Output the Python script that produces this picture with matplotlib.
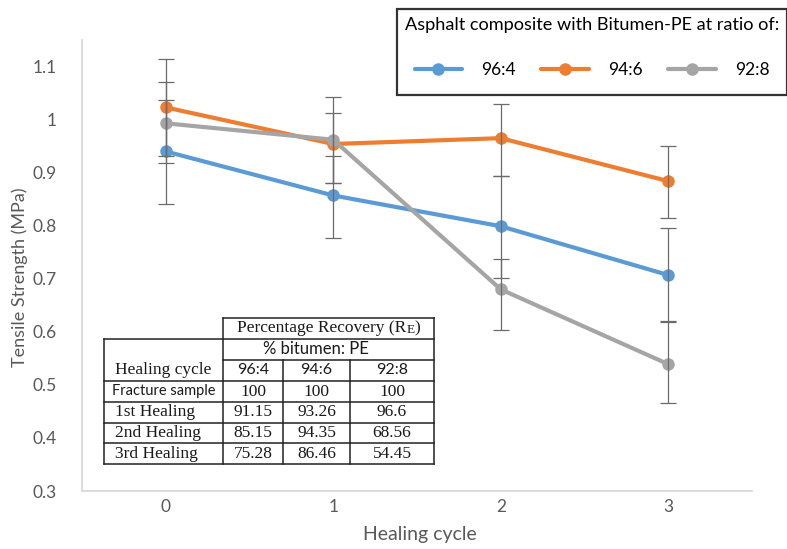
import matplotlib
matplotlib.use("Agg")
import matplotlib.pyplot as plt
import numpy as np

# ---------------- data ----------------
cycles = [0, 1, 2, 3]
series_names = ["96:4", "94:6", "92:8"]
ts_964 = [0.940, 0.857, 0.799, 0.707]
ts_946 = [1.023, 0.954, 0.965, 0.884]
ts_928 = [0.993, 0.962, 0.680, 0.539]
# error bar ends (lower, upper)
lo_964 = [0.840, 0.776, 0.702, 0.620]
hi_964 = [1.036, 0.931, 0.894, 0.796]
lo_946 = [0.931, 0.881, 0.893, 0.815]
hi_946 = [1.115, 1.013, 1.030, 0.950]
lo_928 = [0.918, 0.881, 0.604, 0.465]
hi_928 = [1.070, 1.043, 0.738, 0.619]
yticks = [0.3, 0.4, 0.5, 0.6, 0.7, 0.8, 0.9, 1.0, 1.1]
ytick_labels = ["0.3", "0.4", "0.5", "0.6", "0.7", "0.8", "0.9", "1", "1.1"]

table_title = "Percentage Recovery (R"
table_sub = "% bitumen: PE"
table_rowhead = "Healing cycle"
table_cols = ["96:4", "94:6", "92:8"]
table_rows = ["Fracture sample", "1st Healing", "2nd Healing", "3rd Healing"]
table_vals = [["100", "100", "100"],
              ["91.15", "93.26", "96.6"],
              ["85.15", "94.35", "68.56"],
              ["75.28", "86.46", "54.45"]]

colors = ["#5B9BD5", "#ED7D31", "#A5A5A5"]
txtc = "#595959"
SANS = ["Lato", "DejaVu Sans"]
SERIF = ["Liberation Serif", "DejaVu Serif"]

W, H = 787, 549
fig = plt.figure(figsize=(W / 100, H / 100), dpi=100)
ax = fig.add_axes([82 / W, 1 - 491 / H, (752 - 82) / W, (491 - 40) / H])

vals = [ts_964, ts_946, ts_928]
los = [lo_964, lo_946, lo_928]
his = [hi_964, hi_946, hi_928]
for name, v, lo, hi, c in zip(series_names, vals, los, his, colors):
    v = np.array(v)
    ax.plot(cycles, v, color=c, lw=3, marker="o", ms=8, label=name, zorder=3,
            solid_capstyle="round")
    ax.errorbar(cycles, v, yerr=[v - np.array(lo), np.array(hi) - v], fmt="none",
                ecolor="#6b6b6b", elinewidth=0.9, capsize=6, capthick=0.9, zorder=4)

ax.set_xlim(-0.5, 3.5)
ax.set_ylim(0.3, 1.15)
ax.set_xticks(cycles)
ax.set_xticklabels([str(c) for c in cycles])
ax.set_yticks(yticks)
ax.set_yticklabels(ytick_labels)
ax.tick_params(length=0, colors=txtc, labelsize=12.5)
ax.tick_params(axis="y", pad=18)
ax.tick_params(axis="x", pad=6)
for lab in ax.get_xticklabels() + ax.get_yticklabels():
    lab.set_family(SANS)
for s in ["top", "right"]:
    ax.spines[s].set_visible(False)
for s in ["left", "bottom"]:
    ax.spines[s].set_color("#D9D9D9")
    ax.spines[s].set_linewidth(1.3)
ax.set_xlabel("Healing cycle", fontsize=14, color=txtc, family=SANS)
ax.xaxis.set_label_coords(0.504, -0.078)
ax.set_ylabel("Tensile Strength (MPa)", fontsize=13, color=txtc, family=SANS)
ax.yaxis.set_label_coords(-0.08, 0.474)

leg = fig.legend(loc="upper left", bbox_to_anchor=(397 / W, 1 - 9 / H), ncol=3,
                 title="Asphalt composite with Bitumen-PE at ratio of:",
                 prop={"family": SANS, "size": 12.5},
                 title_fontproperties={"family": SANS, "size": 13.1},
                 frameon=True, fancybox=False, edgecolor="black", handlelength=2.75,
                 columnspacing=1.45, borderpad=0.45, handletextpad=1.1, labelspacing=1.1,
                 borderaxespad=0)
leg.get_frame().set_linewidth(1.6)
leg._legend_box.align = "left"
leg._legend_handle_box.pad = 7

# ---------------- table overlay ----------------
ov = fig.add_axes([0, 0, 1, 1], zorder=5)
ov.set_xlim(0, W)
ov.set_ylim(H, 0)
ov.axis("off")
xe = [104, 223, 283, 350, 434]
ye = [318, 339, 360, 381, 402, 423, 443, 464]
ov.fill([xe[0], xe[-1], xe[-1], xe[0]], [ye[1], ye[1], ye[-1], ye[-1]], color="white", zorder=1)
ov.fill([xe[1], xe[-1], xe[-1], xe[1]], [ye[0], ye[0], ye[1], ye[1]], color="white", zorder=1)
lk = dict(color="#222222", lw=1.1, zorder=2)
ov.plot([xe[1], xe[-1]], [ye[0], ye[0]], **lk)
ov.plot([xe[0], xe[-1]], [ye[1], ye[1]], **lk)
ov.plot([xe[1], xe[-1]], [ye[2], ye[2]], **lk)
for y in ye[3:]:
    ov.plot([xe[0], xe[-1]], [y, y], **lk)
ov.plot([xe[0], xe[0]], [ye[1], ye[-1]], **lk)
ov.plot([xe[1], xe[1]], [ye[0], ye[-1]], **lk)
ov.plot([xe[-1], xe[-1]], [ye[0], ye[-1]], **lk)
for x in xe[2:4]:
    ov.plot([x, x], [ye[2], ye[-1]], **lk)

tk = dict(color="#1a1a1a", zorder=3)
# title with small-cap E
cx = (xe[1] + xe[-1]) / 2
cy = (ye[0] + ye[1]) / 2
t1 = ov.text(0, cy, table_title, family=SERIF, fontsize=12.5, va="center", ha="left", **tk)
t2 = ov.text(0, cy + 1.5, "E", family=SERIF, fontsize=9.5, va="center", ha="left", **tk)
t3 = ov.text(0, cy, ")", family=SERIF, fontsize=12.5, va="center", ha="left", **tk)
fig.canvas.draw()
r = fig.canvas.get_renderer()
def wpx(t):
    return t.get_window_extent(r).width
w1, w2, w3 = wpx(t1), wpx(t2), wpx(t3)
x0 = cx - (w1 + w2 + w3) / 2
t1.set_x(x0); t2.set_x(x0 + w1); t3.set_x(x0 + w1 + w2)

ov.text(cx - 13, (ye[1] + ye[2]) / 2, table_sub, family=SANS, fontsize=12, ha="center", va="center", **tk)
ov.text((xe[0] + xe[1]) / 2, (ye[2] + ye[3]) / 2, table_rowhead, family=SERIF, fontsize=12.5,
        ha="center", va="center", **tk)
for j, c in enumerate(table_cols):
    ov.text((xe[j + 1] + xe[j + 2]) / 2, (ye[2] + ye[3]) / 2, c, family=SANS, fontsize=11.5,
            ha="center", va="center", **tk)
for i, (rn, rv) in enumerate(zip(table_rows, table_vals)):
    yc = (ye[3 + i] + ye[4 + i]) / 2
    if i == 0:
        ov.text((xe[0] + xe[1]) / 2, yc, rn, family=SANS, fontsize=10.5, ha="center", va="center", **tk)
    else:
        ov.text(xe[0] + 11, yc, rn, family=SERIF, fontsize=12.5, ha="left", va="center", **tk)
    for j, v in enumerate(rv):
        ov.text((xe[j + 1] + xe[j + 2]) / 2, yc, v, family=SERIF, fontsize=12.5,
                ha="center", va="center", **tk)

fig.savefig("out.png", dpi=100)
